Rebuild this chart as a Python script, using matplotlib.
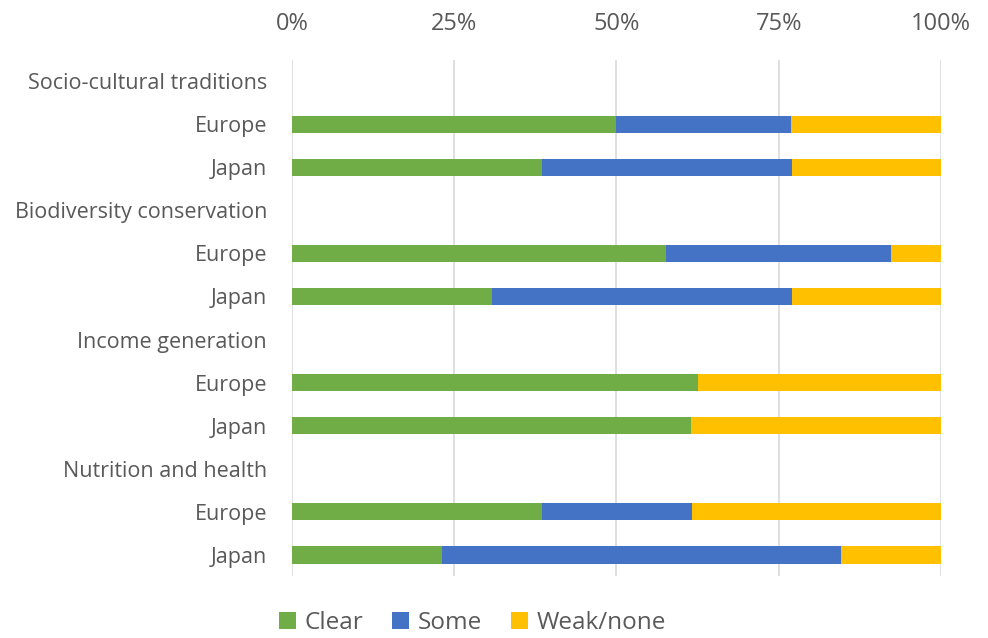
import matplotlib.pyplot as plt
import numpy as np

plt.rcParams['font.family'] = ['Open Sans', 'DejaVu Sans']

# rows from top to bottom; header rows have no bars
row_labels = ['Socio-cultural traditions', 'Europe', 'Japan',
              'Biodiversity conservation', 'Europe', 'Japan',
              'Income generation', 'Europe', 'Japan',
              'Nutrition and health', 'Europe', 'Japan']
clear = [0, 50.0, 38.5, 0, 57.7, 30.8, 0, 62.5, 61.5, 0, 38.5, 23.1]
some = [0, 26.9, 38.5, 0, 34.6, 46.2, 0, 0.0, 0.0, 0, 23.1, 61.5]
weak = [0, 23.1, 23.1, 0, 7.7, 23.1, 0, 37.5, 38.5, 0, 38.5, 15.4]
is_header = [True, False, False, True, False, False, True, False, False, True, False, False]

colors = {'Clear': '#70AD47', 'Some': '#4472C4', 'Weak/none': '#FFC000'}

fig = plt.figure(figsize=(9.88, 6.38), dpi=100)
ax = fig.add_axes([0.2955, 0.0964, 0.6569, 0.8103])

y = np.arange(len(row_labels))
clear = np.array(clear)
some = np.array(some)
weak = np.array(weak)
mask = ~np.array(is_header)

h = 0.4
ax.barh(y[mask], clear[mask], height=h, color=colors['Clear'], label='Clear', zorder=3)
ax.barh(y[mask], some[mask], left=clear[mask], height=h, color=colors['Some'], label='Some', zorder=3)
ax.barh(y[mask], weak[mask], left=(clear + some)[mask], height=h, color=colors['Weak/none'],
        label='Weak/none', zorder=3)

ax.set_ylim(len(row_labels) - 0.5, -0.5)
ax.set_xlim(0, 100)
ax.set_yticks(y)
ax.set_yticklabels(row_labels)
ax.set_xticks([0, 25, 50, 75, 100])
ax.set_xticklabels(['0%', '25%', '50%', '75%', '100%'])
ax.xaxis.tick_top()
ax.tick_params(axis='x', length=0, labelsize=17, colors='#595959', pad=17)
ax.tick_params(axis='y', length=0, labelsize=15.5, colors='#595959', pad=18)
ax.grid(axis='x', color='#D9D9D9', linewidth=1.2, zorder=0)
for s in ax.spines.values():
    s.set_visible(False)

fig.legend(loc='center', bbox_to_anchor=(0.478, 0.024), ncol=3, frameon=False,
           fontsize=17.5, handlelength=0.7, handleheight=0.7, columnspacing=1.2,
           handletextpad=0.35, labelcolor='#595959')

fig.savefig('out.png', dpi=100)
